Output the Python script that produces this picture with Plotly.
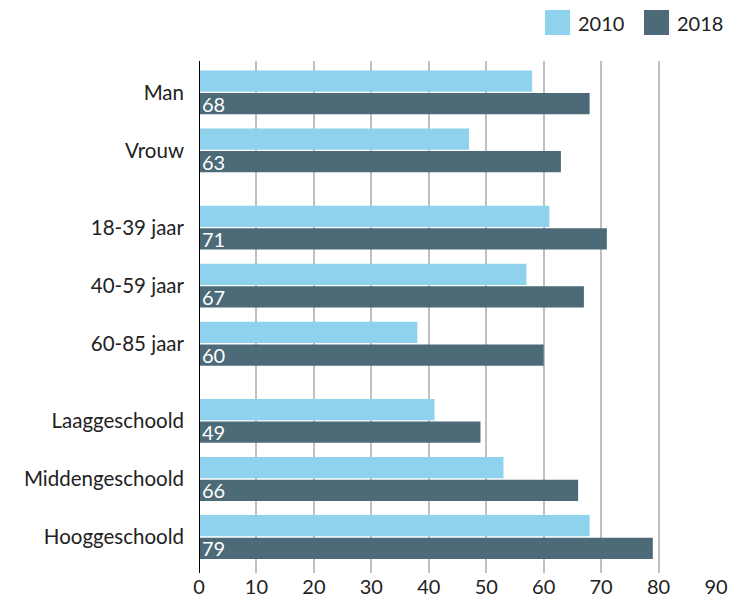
import plotly.graph_objects as go

categories = ["Man", "Vrouw", "18-39 jaar", "40-59 jaar", "60-85 jaar",
              "Laaggeschoold", "Middengeschoold", "Hooggeschoold"]
groups = [2, 3, 3]
series_names = ["2010", "2018"]
values_2010 = [58, 47, 61, 57, 38, 41, 53, 68]
values_2018 = [68, 63, 71, 67, 60, 49, 66, 79]
x_ticks = [0, 10, 20, 30, 40, 50, 60, 70, 80, 90]

# y positions with a small gap between groups
gap = 0.33
positions = []
p = 0.0
for n in groups:
    for k in range(n):
        positions.append(p)
        p += 1
    p += gap

LIGHT = "#8ED2EE"
DARK = "#4C6A78"
TXT = "#222222"
FONT = "Lato, Open Sans, sans-serif"
W, H = 729, 604
ML, MR, MT, MB = 199, 13, 61, 31

fig = go.Figure()
fig.add_trace(go.Bar(
    y=positions, x=values_2010, orientation="h", name=series_names[0],
    marker=dict(color=LIGHT, line=dict(width=0)), showlegend=False,
))
fig.add_trace(go.Bar(
    y=positions, x=values_2018, orientation="h", name=series_names[1],
    marker=dict(color=DARK, line=dict(width=0)), showlegend=False,
    text=[str(v) for v in values_2018], textposition="inside",
    insidetextanchor="start", textangle=0, constraintext="none",
    textfont=dict(color="white", size=20, family=FONT),
))

fig.update_layout(
    width=W, height=H,
    margin=dict(l=ML, r=MR, t=MT, b=MB, autoexpand=False),
    paper_bgcolor="white", plot_bgcolor="white",
    barmode="group", bargap=0.22, bargroupgap=0.06,
    font=dict(family=FONT, size=20, color=TXT),
    showlegend=False,
    xaxis=dict(range=[0, 90], tickvals=x_ticks, showgrid=True,
               gridcolor="#BFBFBF", gridwidth=1.5, zeroline=False,
               showline=False, ticks="", tickfont=dict(size=20),
               automargin=False),
    yaxis=dict(range=[8.28, -0.54], tickvals=positions, ticktext=categories,
               showgrid=False, zeroline=False, showline=False, ticks="",
               ticklabelstandoff=14, tickfont=dict(size=20.5), automargin=False),
)
fig.add_shape(type="line", xref="x", yref="paper", x0=0, x1=0, y0=0, y1=1,
              line=dict(color="black", width=2))

# manual legend (large square swatches as in the reference)
pw = W - ML - MR
ph = H - MT - MB
def px_x(v):
    return (v - ML) / pw
def px_y(v):
    return 1 - (v - MT) / ph

legend_items = [(series_names[0], LIGHT, 545), (series_names[1], DARK, 644)]
for name, col, x0 in legend_items:
    fig.add_shape(type="rect", xref="paper", yref="paper",
                  x0=px_x(x0), x1=px_x(x0 + 25), y0=px_y(35), y1=px_y(10),
                  fillcolor=col, line=dict(width=0))
    fig.add_annotation(xref="paper", yref="paper", x=px_x(x0 + 31), y=px_y(22.5),
                       text=name, showarrow=False, xanchor="left", yanchor="middle",
                       font=dict(size=20, color=TXT, family=FONT))

fig.write_html("out.html",
               config={"displayModeBar": False},
               post_script="document.body.style.margin='0';"
                           "document.body.style.overflow='hidden';")
